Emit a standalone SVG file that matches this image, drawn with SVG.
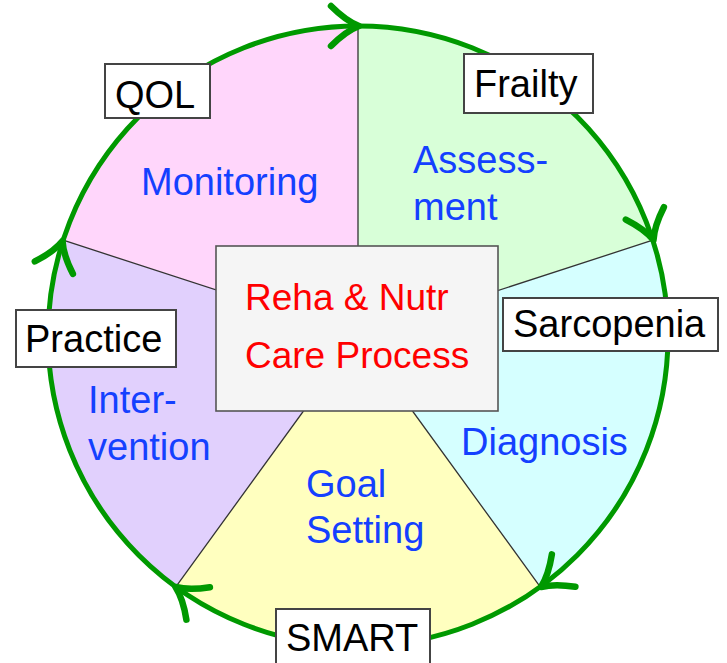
<svg xmlns="http://www.w3.org/2000/svg" width="727" height="663" viewBox="0 0 727 663">
  <style>
    .sector { stroke: none; }
    .divider { stroke: #333; stroke-width: 1.3; fill: none; }
    .ring { fill: none; stroke: #009900; stroke-width: 5; }
    .head { fill: none; stroke: #009900; stroke-width: 6.5; stroke-linecap: round; stroke-linejoin: round; }
    .tag rect { fill: #fff; stroke: #444; stroke-width: 2; }
    .tag text { font-family: "Liberation Sans", Arial, sans-serif; font-size: 38px; fill: #000; }
    .step { font-family: "Liberation Sans", Arial, sans-serif; font-size: 38px; fill: #1440ff; }
    .core rect { fill: #f5f5f5; stroke: #555; stroke-width: 1.6; }
    .core text { font-family: "Liberation Sans", Arial, sans-serif; font-size: 37px; fill: #ff0000; }
  </style>
  <defs>
    <!-- open arrowhead, tip at origin, pointing along +x -->
    <path id="arrowhead" class="head" d="M-28,-20 Q-13,-5 0,0 Q-13,5 -28,20"/>
  </defs>

  <rect width="727" height="663" fill="#fff"/>

  <!-- five process sectors around centre (358,336), radius 310 -->
  <g id="sector-assessment">
    <path class="sector" fill="#d8ffd8" d="M358,336 L358,26 A310,310 0 0 1 652.8,240.2 Z"/>
  </g>
  <g id="sector-diagnosis">
    <path class="sector" fill="#d5ffff" d="M358,336 L652.8,240.2 A310,310 0 0 1 540.2,586.8 Z"/>
  </g>
  <g id="sector-goal">
    <path class="sector" fill="#ffffbf" d="M358,336 L540.2,586.8 A310,310 0 0 1 175.8,586.8 Z"/>
  </g>
  <g id="sector-intervention">
    <path class="sector" fill="#e1d0fd" d="M358,336 L175.8,586.8 A310,310 0 0 1 63.2,240.2 Z"/>
  </g>
  <g id="sector-monitoring">
    <path class="sector" fill="#ffd6fb" d="M358,336 L63.2,240.2 A310,310 0 0 1 358,26 Z"/>
  </g>

  <!-- connectors: dividers, cycle ring and its arrowheads -->
  <g id="connectors">
    <path class="divider" d="M358,336 L358,26 M358,336 L652.8,240.2 M358,336 L540.2,586.8 M358,336 L175.8,586.8 M358,336 L63.2,240.2"/>
    <circle class="ring" cx="358" cy="336" r="310"/>
    <use href="#arrowhead" transform="translate(359,26)"/>
    <use href="#arrowhead" transform="translate(653.5,240) rotate(72)"/>
    <use href="#arrowhead" transform="translate(541,587) rotate(144)"/>
    <use href="#arrowhead" transform="translate(175.5,587) rotate(216)"/>
    <use href="#arrowhead" transform="translate(62.5,241) rotate(288)"/>
  </g>

  <!-- step names -->
  <g id="step-monitoring"><text class="step" x="141" y="195">Monitoring</text></g>
  <g id="step-assessment">
    <text class="step" x="413" y="173">Assess-</text>
    <text class="step" x="413" y="220">ment</text>
  </g>
  <g id="step-diagnosis"><text class="step" x="461" y="455">Diagnosis</text></g>
  <g id="step-goal">
    <text class="step" x="306" y="497">Goal</text>
    <text class="step" x="306" y="543">Setting</text>
  </g>
  <g id="step-intervention">
    <text class="step" x="88" y="413">Inter-</text>
    <text class="step" x="88" y="460">vention</text>
  </g>

  <!-- centre box -->
  <g id="core" class="core">
    <rect x="216" y="246" width="282" height="165"/>
    <text x="245" y="310">Reha &amp; Nutr</text>
    <text x="245" y="368">Care Process</text>
  </g>

  <!-- tags -->
  <g id="tag-qol" class="tag">
    <rect x="105" y="64" width="105" height="54"/>
    <text x="115" y="108">QOL</text>
  </g>
  <g id="tag-frailty" class="tag">
    <rect x="464" y="54" width="129" height="59"/>
    <text x="474" y="97">Frailty</text>
  </g>
  <g id="tag-sarcopenia" class="tag">
    <rect x="503" y="298" width="215" height="53"/>
    <text x="513" y="337">Sarcopenia</text>
  </g>
  <g id="tag-practice" class="tag">
    <rect x="16" y="310" width="160" height="57"/>
    <text x="25" y="352">Practice</text>
  </g>
  <g id="tag-smart" class="tag">
    <rect x="276" y="609" width="154" height="60"/>
    <text x="286" y="651">SMART</text>
  </g>
</svg>
